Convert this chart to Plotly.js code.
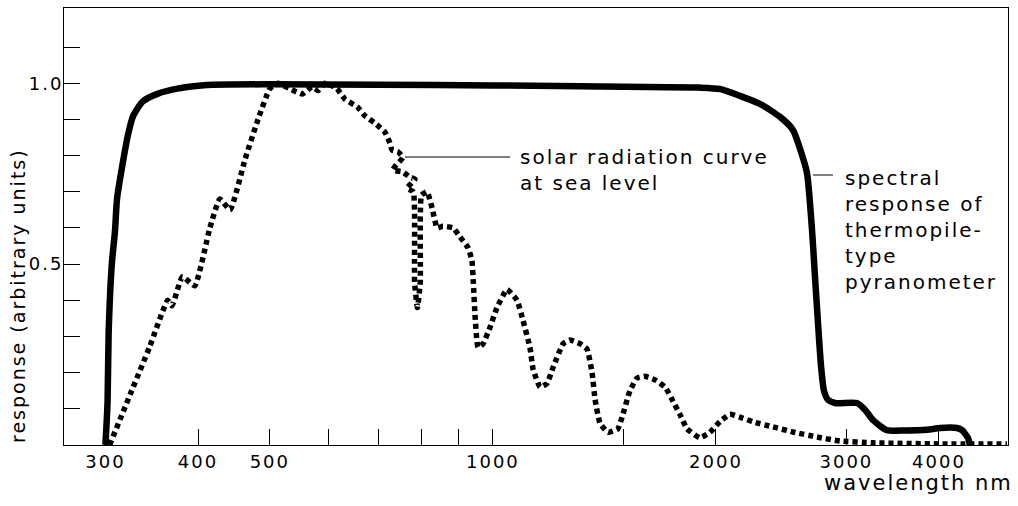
<!DOCTYPE html>
<html>
<head>
<meta charset="utf-8">
<script src="https://cdn.plot.ly/plotly-3.0.1.min.js"></script>
<style>
  html, body { margin: 0; padding: 0; background: #fff; }
  #chart { width: 1018px; height: 506px; }
  text { letter-spacing: 2px; }
</style>
</head>
<body>
<div id="chart"></div>
<script>
// Spectral response of thermopile-type pyranometer (solid)
const pyranoWavelength = [300, 302, 303, 306, 309, 311, 316, 322, 327, 337, 352, 375, 411, 500, 700, 1000, 1500, 1900, 2026, 2155, 2293, 2441, 2541, 2600, 2654, 2696, 2720, 2746, 2772, 2798, 2833, 2895, 3100, 3180, 3258, 3403, 3600, 3854, 4012, 4230, 4297, 4378, 4405];
const pyranoResponse   = [0, 0.12, 0.31, 0.50, 0.59, 0.68, 0.77, 0.86, 0.91, 0.95, 0.97, 0.985, 0.995, 0.997, 0.996, 0.994, 0.99, 0.988, 0.984, 0.965, 0.943, 0.907, 0.871, 0.816, 0.752, 0.594, 0.47, 0.34, 0.22, 0.15, 0.125, 0.116, 0.116, 0.097, 0.069, 0.041, 0.040, 0.042, 0.047, 0.047, 0.041, 0.019, 0];

// Solar radiation curve at sea level (dotted)
const solarWavelength = [304, 324, 344, 364, 369, 381, 396, 415, 428, 442, 463, 482, 500, 513, 532, 553, 570, 581, 594, 616, 632, 656, 672, 693, 715, 726, 731, 745, 756, 738, 733, 756, 773, 785, 766, 781, 784, 791, 798, 801, 815, 828, 841, 856, 884, 903, 926, 937, 941, 946, 955, 970, 991, 1013, 1045, 1078, 1098, 1122, 1133, 1158, 1183, 1206, 1244, 1271, 1311, 1340, 1361, 1374, 1395, 1430, 1475, 1498, 1531, 1565, 1604, 1655, 1708, 1751, 1788, 1828, 1903, 1963, 2025, 2089, 2155, 2244, 2388, 2541, 2738, 2941, 3258, 4012, 4941];
const solarResponse   = [0.0, 0.14, 0.27, 0.40, 0.385, 0.465, 0.44, 0.60, 0.68, 0.65, 0.79, 0.90, 0.985, 1.0, 0.985, 0.97, 0.99, 0.98, 1.0, 0.985, 0.955, 0.935, 0.91, 0.89, 0.865, 0.835, 0.815, 0.81, 0.795, 0.77, 0.76, 0.755, 0.74, 0.735, 0.71, 0.70, 0.45, 0.38, 0.45, 0.69, 0.70, 0.655, 0.60, 0.605, 0.60, 0.575, 0.545, 0.51, 0.45, 0.36, 0.27, 0.28, 0.325, 0.38, 0.43, 0.40, 0.345, 0.27, 0.21, 0.16, 0.17, 0.215, 0.28, 0.29, 0.28, 0.265, 0.20, 0.125, 0.06, 0.035, 0.045, 0.085, 0.15, 0.185, 0.19, 0.18, 0.16, 0.12, 0.085, 0.045, 0.02, 0.035, 0.065, 0.085, 0.077, 0.064, 0.05, 0.036, 0.022, 0.011, 0.006, 0.003, 0.003];

// Axis ticks
const xTickValues = [300, 400, 500, 600, 700, 800, 900, 1000, 1500, 2000, 3000, 4000];
const xTickLabels = ['300', '400', '500', '', '', '', '', '1000', '', '2000', '3000', '4000'];
const yTickValues = [0, 0.1, 0.2, 0.3, 0.4, 0.5, 0.6, 0.7, 0.8, 0.9, 1.0, 1.1];
const yTickLabels = ['', '', '', '', '', '0.5', '', '', '', '', '1.0', ''];

// Texts
const xTitle = 'wavelength nm';
const yTitle = 'response (arbitrary units)';
const solarLabel = 'solar radiation curve<br>at sea level';
const pyranoLabel = 'spectral<br>response of<br>thermopile-<br>type<br>pyranometer';

const FONT = 'DejaVu Sans, Verdana, sans-serif';

const traces = [
  {
    x: pyranoWavelength, y: pyranoResponse, type: 'scatter', mode: 'lines',
    line: { color: '#000', width: 6.5, shape: 'spline', smoothing: 0.6 },
    hoverinfo: 'skip', showlegend: false
  },
  {
    x: solarWavelength, y: solarResponse, type: 'scatter', mode: 'lines',
    line: { color: '#000', width: 5.5, dash: '5px,4px', shape: 'spline', smoothing: 0.4 },
    hoverinfo: 'skip', showlegend: false
  }
];

const layout = {
  width: 1018, height: 506,
  margin: { l: 64, r: 10, t: 8, b: 61 },
  paper_bgcolor: '#fff', plot_bgcolor: '#fff',
  font: { family: FONT, size: 18, color: '#000' },
  showlegend: false,
  xaxis: {
    type: 'log', range: [2.4212, 3.6952],
    showline: true, mirror: true, linecolor: '#000', linewidth: 1,
    ticks: 'inside', ticklen: 16, tickwidth: 1, tickcolor: '#000',
    tickmode: 'array', tickvals: xTickValues, ticktext: xTickLabels,
    showgrid: false, zeroline: false,
    tickfont: { family: FONT, size: 18, color: '#000' }
  },
  yaxis: {
    range: [0, 1.208],
    showline: true, mirror: true, linecolor: '#000', linewidth: 1,
    ticks: 'inside', ticklen: 16, tickwidth: 1, tickcolor: '#000',
    tickmode: 'array', tickvals: yTickValues, ticktext: yTickLabels,
    ticklabelstandoff: -4,
    showgrid: false, zeroline: false,
    tickfont: { family: FONT, size: 18, color: '#000' }
  },
  shapes: [
    { type: 'line', xref: 'paper', yref: 'paper', x0: 0.3612, x1: 0.4725, y0: 0.659, y1: 0.659, line: { color: '#000', width: 1 } },
    { type: 'line', xref: 'paper', yref: 'paper', x0: 0.7934, x1: 0.8146, y0: 0.6178, y1: 0.6178, line: { color: '#000', width: 1 } }
  ],
  annotations: [
    { text: solarLabel, xref: 'paper', yref: 'paper', x: 0.4809, y: 0.6304, xanchor: 'left', yanchor: 'middle', align: 'left', showarrow: false, font: { family: FONT, size: 20, color: '#000' } },
    { text: pyranoLabel, xref: 'paper', yref: 'paper', x: 0.8252, y: 0.492, xanchor: 'left', yanchor: 'middle', align: 'left', showarrow: false, font: { family: FONT, size: 20, color: '#000' } },
    { text: xTitle, xref: 'paper', yref: 'paper', x: 1.0074, y: -0.087, xanchor: 'right', yanchor: 'middle', showarrow: false, font: { family: FONT, size: 21, color: '#000' } },
    { text: yTitle, xref: 'paper', yref: 'paper', x: -0.0487, y: 0.341, xanchor: 'center', yanchor: 'middle', textangle: -90, showarrow: false, font: { family: FONT, size: 19, color: '#000' } }
  ]
};

Plotly.newPlot('chart', traces, layout, { staticPlot: true, displayModeBar: false });
</script>
</body>
</html>
